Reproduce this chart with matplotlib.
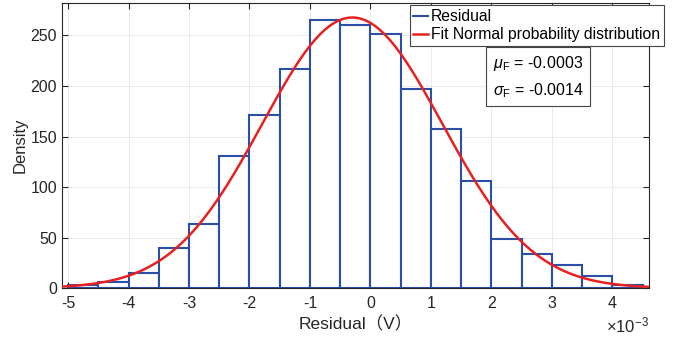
import matplotlib.pyplot as plt
import numpy as np
from matplotlib.lines import Line2D
from matplotlib.ticker import FuncFormatter

# Histogram bins (V) and density heights
bin_edges = np.arange(-5.0, 4.51, 0.5) * 1e-3
density = [3, 5.6, 14.5, 40, 63, 131, 171, 217, 265, 260,
           251, 197, 157, 106, 49, 34, 23, 11.5, 3]

# Fitted normal parameters (sigma chosen so the peak matches the figure)
mu_fit = -0.0003
sigma_fit = 0.00149
mu_label = "-0.0003"
sigma_label = "-0.0014"

plt.rcParams["font.family"] = ["Liberation Sans", "Noto Sans CJK SC", "DejaVu Sans"]
plt.rcParams["axes.unicode_minus"] = False
plt.rcParams["mathtext.fontset"] = "custom"
plt.rcParams["mathtext.rm"] = "Liberation Sans"
plt.rcParams["mathtext.it"] = "Liberation Sans:italic"
dark = "#262626"
blue = "#2a4fa8"
red = "#e8201f"

fig = plt.figure(figsize=(6.85, 3.43), dpi=100)
ax = fig.add_axes([0.0905, 0.160, 0.8565, 0.831])

widths = np.diff(bin_edges)
ax.bar(bin_edges[:-1], density, width=widths, align="edge",
       facecolor="white", edgecolor=blue, linewidth=1.5, zorder=2)

x = np.linspace(-5.1e-3, 4.6e-3, 400)
pdf = np.exp(-0.5 * ((x - mu_fit) / sigma_fit) ** 2) / (sigma_fit * np.sqrt(2 * np.pi))
ax.plot(x, pdf, color=red, linewidth=1.8, zorder=3)

ax.set_xlim(-5.1e-3, 4.6e-3)
ax.set_ylim(0, 282)
ax.set_xticks(np.arange(-5, 5) * 1e-3)
ax.set_yticks([0, 50, 100, 150, 200, 250])

# tick labels in units of 1e-3 with a plain hyphen, exponent written separately
ax.xaxis.set_major_formatter(FuncFormatter(lambda v, _: f"{round(v * 1e3):d}"))
ax.text(1.0, -0.095, r"$\times10^{-3}$", transform=ax.transAxes,
        ha="right", va="top", fontsize=12, color=dark)

ax.grid(True, color="#ebebeb", linewidth=0.7, zorder=0)
ax.set_axisbelow(True)
ax.tick_params(direction="in", top=True, right=True, length=4,
               labelsize=11.5, colors=dark, width=0.8)
ax.tick_params(axis="x", pad=6)
for s in ax.spines.values():
    s.set_color(dark)
    s.set_linewidth(0.8)

ax.set_xlabel("Residual（V）", fontsize=12.5, color=dark, labelpad=3)
ax.set_ylabel("Density", fontsize=12, color=dark, labelpad=2)

# legend shows both entries as short lines, as in the figure
handles = [Line2D([], [], color=blue, linewidth=1.5),
           Line2D([], [], color=red, linewidth=1.8)]
labels = ["Residual", "Fit Normal probability distribution"]
leg = ax.legend(handles, labels, loc="upper right", bbox_to_anchor=(0.969, 0.985),
                bbox_transform=fig.transFigure, fontsize=11.3,
                handlelength=0.9, handletextpad=0.2, borderpad=0.25,
                labelspacing=0.2, fancybox=False, framealpha=1,
                edgecolor="#444444", borderaxespad=0)
leg.get_frame().set_linewidth(0.8)

ax.text(0.719, 0.843,
        rf"$\mathit{{\mu}}_{{\mathrm{{F}}}}$ = {mu_label}" + "\n" + rf"$\mathit{{\sigma}}_{{\mathrm{{F}}}}$ = {sigma_label}",
        transform=fig.transFigure, fontsize=11.5, color="black",
        va="top", ha="left", linespacing=1.6,
        bbox=dict(boxstyle="square,pad=0.4", facecolor="white",
                  edgecolor="#444444", linewidth=0.8), zorder=5)

fig.savefig("out.png", dpi=100)
